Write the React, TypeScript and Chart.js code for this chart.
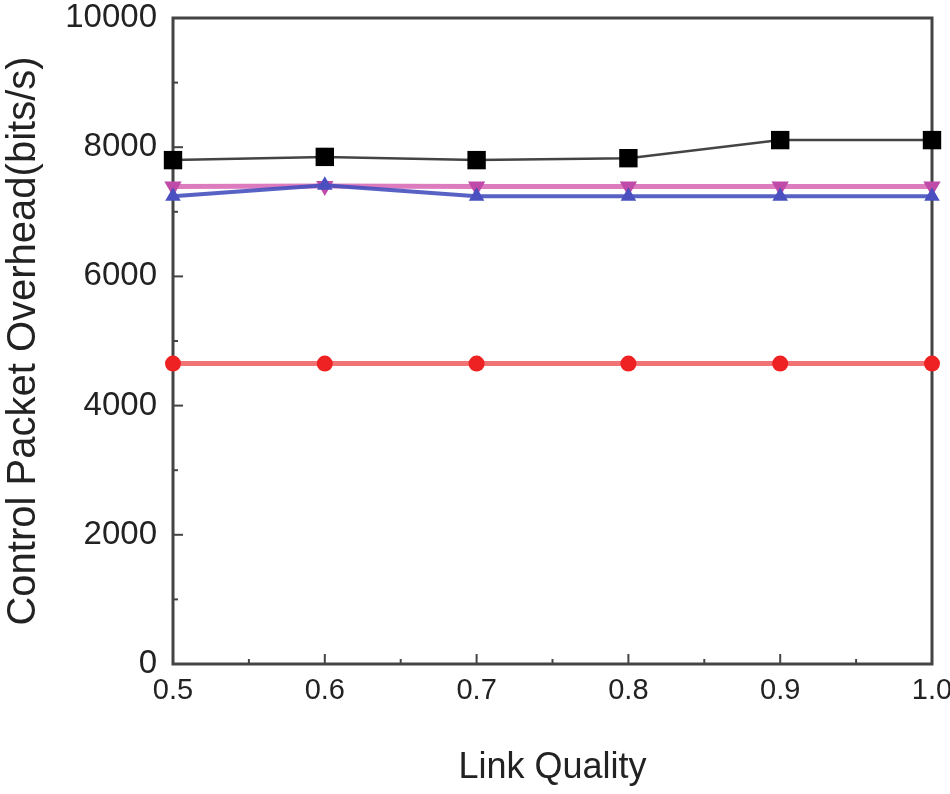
import React, { useEffect, useRef } from "react";
import { Chart, registerables } from "chart.js";
Chart.register(...registerables);

const xValues = [0.5, 0.6, 0.7, 0.8, 0.9, 1.0];
const seriesBlack = [7800, 7850, 7800, 7830, 8110, 8110];
const seriesPink = [7390, 7400, 7390, 7390, 7390, 7390];
const seriesBlue = [7240, 7410, 7240, 7240, 7240, 7240];
const seriesRed = [4650, 4650, 4650, 4650, 4650, 4650];
const xTitle = "Link Quality";
const yTitle = "Control Packet Overhead(bits/s)";

const FONT = "'Liberation Sans Narrow', 'Arial Narrow', 'Liberation Sans', Arial, sans-serif";

const framePlugin = {
  id: "frame",
  beforeDatasetsDraw(chart: any) {
    const { ctx, chartArea: a, scales } = chart;
    ctx.save();
    ctx.strokeStyle = "#444";
    ctx.lineWidth = 3;
    ctx.strokeRect(a.left, a.top, a.right - a.left, a.bottom - a.top);
    ctx.lineWidth = 2;
    const xs = scales.x;
    for (let i = 0; i <= 10; i++) {
      const v = 0.5 + i * 0.05;
      const px = xs.getPixelForValue(v);
      const len = i % 2 === 0 ? 10 : 5;
      ctx.beginPath();
      ctx.moveTo(px, a.bottom);
      ctx.lineTo(px, a.bottom - len);
      ctx.stroke();
    }
    const ys = scales.y;
    for (let v = 0; v <= 10000; v += 1000) {
      const py = ys.getPixelForValue(v);
      const len = v % 2000 === 0 ? 10 : 5;
      ctx.beginPath();
      ctx.moveTo(a.left, py);
      ctx.lineTo(a.left + len, py);
      ctx.stroke();
    }
    ctx.restore();
  },
};

export default function App() {
  const ref = useRef<HTMLCanvasElement>(null);
  useEffect(() => {
    const mk = (arr: number[]) => xValues.map((x, i) => ({ x, y: arr[i] }));
    const chart = new Chart(ref.current!, {
      type: "line",
      data: {
        datasets: [
          {
            label: "red",
            data: mk(seriesRed),
            borderColor: "rgba(240,90,90,0.85)",
            backgroundColor: "#ee2222",
            borderWidth: 5,
            pointStyle: "circle",
            pointRadius: 8,
            pointBorderWidth: 0,
            clip: false,
          },
          {
            label: "blue",
            data: mk(seriesBlue),
            borderColor: "rgba(70,80,190,0.9)",
            backgroundColor: "#4a50c0",
            borderWidth: 4,
            pointStyle: "triangle",
            pointRadius: 9,
            pointBorderWidth: 0,
            clip: false,
          },
          {
            label: "pink",
            data: mk(seriesPink),
            borderColor: "rgba(215,100,180,0.85)",
            backgroundColor: "#c04aa8",
            borderWidth: 5,
            pointStyle: "triangle",
            rotation: 180,
            pointRadius: 10,
            pointBorderWidth: 0,
            clip: false,
          },
          {
            label: "black",
            data: mk(seriesBlack),
            borderColor: "#444",
            backgroundColor: "#000",
            borderWidth: 2.5,
            pointStyle: "rect",
            pointRadius: 13,
            pointBorderWidth: 0,
            clip: false,
          },
        ],
      },
      options: {
        animation: false,
        responsive: false,
        layout: { padding: { top: 18, right: 18, left: 0, bottom: 0 } },
        plugins: { legend: { display: false }, tooltip: { enabled: false } },
        scales: {
          x: {
            type: "linear",
            min: 0.5,
            max: 1.0,
            grid: { display: false, drawTicks: false },
            border: { display: false },
            ticks: {
              stepSize: 0.1,
              padding: 10,
              color: "#222",
              font: { family: FONT, size: 29 },
              callback: (v: any) => Number(v).toFixed(1),
              maxRotation: 0,
            },
            title: {
              display: true,
              text: xTitle,
              color: "#222",
              font: { family: FONT, size: 36 },
              padding: { top: 28 },
            },
            afterFit: (s: any) => {
              s.height = 130;
              s.paddingLeft = 0;
              s.paddingRight = 0;
            },
          },
          y: {
            type: "linear",
            min: 0,
            max: 10000,
            grid: { display: false, drawTicks: false },
            border: { display: false },
            ticks: {
              stepSize: 2000,
              padding: 16,
              color: "#222",
              font: { family: FONT, size: 33 },
              callback: (v: any) => String(v),
            },
            title: {
              display: true,
              text: yTitle,
              color: "#222",
              font: { family: FONT, size: 40 },
              padding: { top: 0, bottom: 0 },
            },
            afterFit: (s: any) => {
              s.width = 173;
              s.paddingTop = 0;
              s.paddingBottom = 0;
            },
          },
        },
      },
      plugins: [framePlugin],
    } as any);
    return () => chart.destroy();
  }, []);
  return (
    <div style={{ position: "fixed", left: 0, top: 0, width: 950, height: 794, background: "#fff" }}>
      <canvas ref={ref} width={950} height={794} style={{ display: "block" }} />
    </div>
  );
}
